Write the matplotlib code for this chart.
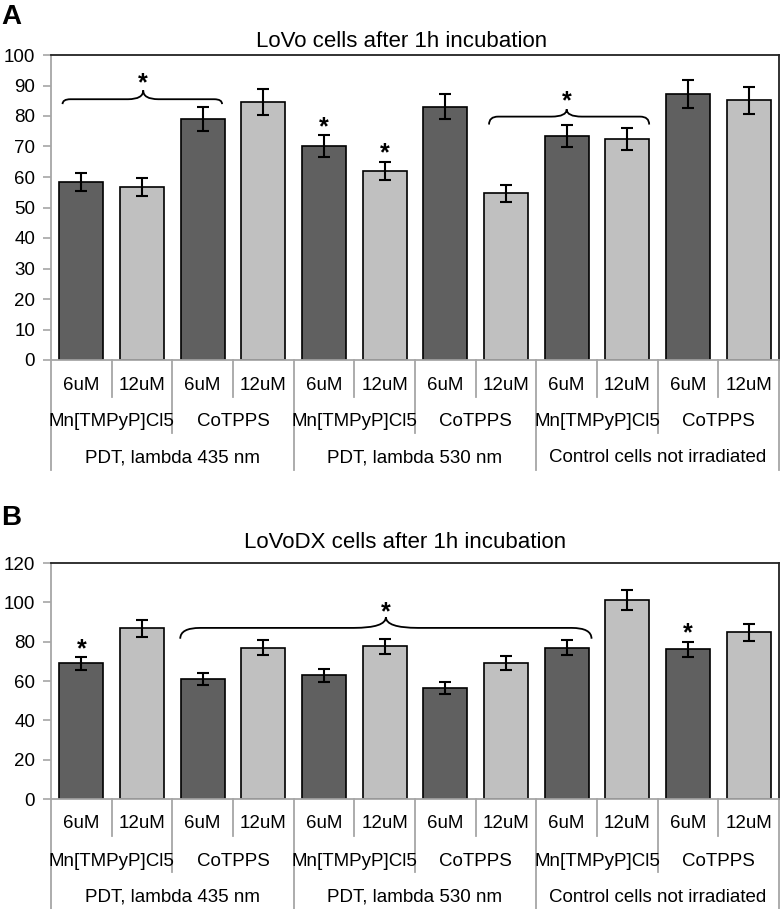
import matplotlib
matplotlib.use("Agg")
import matplotlib.pyplot as plt
import numpy as np
from matplotlib.path import Path
from matplotlib.patches import PathPatch
from matplotlib.transforms import blended_transform_factory

plt.rcParams['font.family'] = ['Liberation Sans', 'DejaVu Sans']

# labels of the three-level category axis
doses = ['6uM', '12uM'] * 6
compounds = ['Mn[TMPyP]Cl5', 'CoTPPS'] * 3
conditions = ['PDT, lambda 435 nm', 'PDT, lambda 530 nm', 'Control cells not irradiated']

# panel A: LoVo
lovo_vals = [58.3, 56.8, 79.1, 84.5, 70.2, 62.0, 83.1, 54.6, 73.4, 72.4, 87.2, 85.1]
lovo_err = [3.0, 2.9, 4.0, 4.2, 3.5, 3.0, 4.1, 2.8, 3.6, 3.7, 4.5, 4.3]
# panel B: LoVoDX
lovodx_vals = [68.9, 86.8, 61.1, 76.9, 62.8, 77.6, 56.5, 69.1, 76.9, 101.4, 76.2, 84.7]
lovodx_err = [3.4, 4.4, 3.2, 3.9, 3.2, 3.9, 2.9, 3.4, 3.7, 5.1, 3.8, 4.3]

# significance marks: (bar index, y of star centre)
lovo_stars = [(4, 76.3), (5, 68.0)]
lovodx_stars = [(0, 76.2), (10, 84.5)]
# braces: x0, x1, xmid, y, end drop, end radius, tip rise, tip half width, star y
lovo_braces = [(-0.31, 2.32, 1.02, 85.5, 1.6, 0.13, 2.9, 0.25, 91.0),
               (6.72, 9.36, 8.0, 79.8, 2.6, 0.15, 2.4, 0.25, 85.0)]
lovodx_braces = [(1.63, 8.41, 5.02, 87.0, 5.5, 0.33, 5.5, 0.53, 95.2)]

DARK = '#606060'
LIGHT = '#c0c0c0'
GRID = '#a6a6a6'
STAR_SIZE = 18

W, H = 782, 909
fig = plt.figure(figsize=(W / 100, H / 100), dpi=100)


def px_axes(ax, dy):
    # convert a pixel distance below the axis to axes fraction
    h = ax.get_position().height * H
    return -dy / h


def star(ax, x, y):
    # the asterisk glyph sits high in the line box, so anchor on the baseline
    ax.annotate('*', (x, y), xytext=(0, -0.3 * STAR_SIZE), textcoords='offset points',
                ha='center', va='baseline', fontsize=STAR_SIZE, fontweight='bold')


def brace(ax, x0, x1, xm, y, d_end, r_end, d_mid, r_mid, star_y):
    verts = [(x0, y - d_end), (x0, y), (x0 + r_end, y),
             (xm - r_mid, y),
             (xm, y), (xm, y + d_mid),
             (xm, y), (xm + r_mid, y),
             (x1 - r_end, y),
             (x1, y), (x1, y - d_end)]
    codes = [Path.MOVETO, Path.CURVE3, Path.CURVE3,
             Path.LINETO,
             Path.CURVE3, Path.CURVE3,
             Path.CURVE3, Path.CURVE3,
             Path.LINETO,
             Path.CURVE3, Path.CURVE3]
    ax.add_patch(PathPatch(Path(verts, codes), fill=False, lw=1.3,
                           edgecolor='black', clip_on=False))
    star(ax, xm, star_y)


def panel(ax, vals, errs, ymax, ystep, stars, braces):
    x = np.arange(len(vals))
    colors = [DARK, LIGHT] * 6
    ax.bar(x, vals, width=0.73, color=colors, edgecolor='black', linewidth=1.2,
           yerr=errs, capsize=4, error_kw=dict(elinewidth=1.5, capthick=1.5, ecolor='black'))
    ax.set_xlim(-0.5, len(vals) - 0.5)
    ax.set_ylim(0, ymax)
    ax.set_yticks(np.arange(0, ymax + 1, ystep))
    ax.set_xticks([])
    ax.tick_params(axis='y', direction='out', length=5.5, width=1.2, color=GRID,
                   labelsize=13.5, pad=6)
    for s in ['left', 'bottom']:
        ax.spines[s].set_color(GRID)
        ax.spines[s].set_linewidth(1.3)
    for s in ['top', 'right']:
        ax.spines[s].set_color('#222222')
        ax.spines[s].set_linewidth(1.3)

    for i, sy in stars:
        star(ax, i, sy)
    for b in braces:
        brace(ax, *b)

    # category table below the axis
    tr = blended_transform_factory(ax.transData, ax.transAxes)
    d1, d2, d3 = px_axes(ax, 37), px_axes(ax, 73), px_axes(ax, 110)
    for k in range(len(vals) + 1):
        xb = k - 0.5
        if k % 4 == 0:
            y_end = d3
        elif k % 2 == 0:
            y_end = d2
        else:
            y_end = d1
        ax.plot([xb, xb], [0, y_end], color=GRID, lw=1.3, transform=tr, clip_on=False)
    for i, lab in enumerate(doses):
        ax.text(i, px_axes(ax, 25), lab, ha='center', va='center', fontsize=13.5, transform=tr)
    for j, lab in enumerate(compounds):
        ax.text(2 * j + 0.5, px_axes(ax, 62), lab, ha='center', va='center',
                fontsize=13.5, transform=tr)
    for j, lab in enumerate(conditions):
        ax.text(4 * j + 1.5, px_axes(ax, 98), lab, ha='center', va='center',
                fontsize=13.5, transform=tr)


left, width = 51 / W, 728 / W
axA = fig.add_axes([left, 1 - 360 / H, width, 305 / H])
axB = fig.add_axes([left, 1 - 799 / H, width, 236 / H])

panel(axA, lovo_vals, lovo_err, 100, 10, lovo_stars, lovo_braces)
panel(axB, lovodx_vals, lovodx_err, 120, 20, lovodx_stars, lovodx_braces)

fig.text(402 / W, 1 - 47 / H, 'LoVo cells after 1h incubation', ha='center',
         va='baseline', fontsize=16)
fig.text(405 / W, 1 - 548 / H, 'LoVoDX cells after 1h incubation', ha='center',
         va='baseline', fontsize=16)
fig.text(0.002, 1 - 17.5 / H, 'A', ha='left', va='center', fontsize=20, fontweight='bold')
fig.text(0.002, 1 - 518 / H, 'B', ha='left', va='center', fontsize=20, fontweight='bold')

fig.savefig('out.png', dpi=100)
